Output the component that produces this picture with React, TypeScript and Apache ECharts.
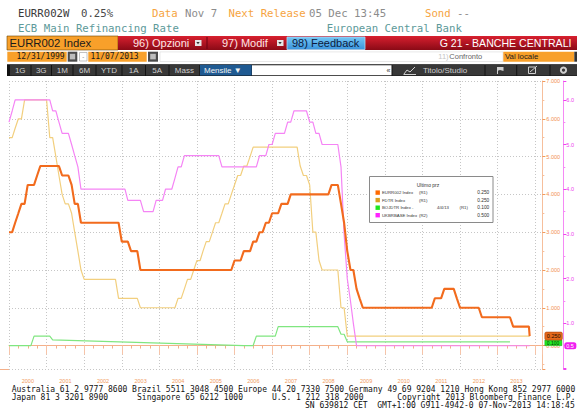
import React, { useEffect, useRef } from "react";
import * as echarts from "echarts";

// ---------------- DATA (monthly, end of month: Dec 1999 ... Nov 2013; last point 07 Nov 2013) -------------
const LAST_DATE = "2013-11-07";

const eurr002 = [
  3.0,
  3.0, 3.25, 3.5, 3.75, 3.75, 4.25, 4.25, 4.25, 4.5, 4.75, 4.75, 4.75,
  4.75, 4.75, 4.75, 4.75, 4.5, 4.5, 4.5, 4.25, 3.75, 3.75, 3.25, 3.25,
  3.25, 3.25, 3.25, 3.25, 3.25, 3.25, 3.25, 3.25, 3.25, 3.25, 3.25, 2.75,
  2.75, 2.75, 2.5, 2.5, 2.5, 2.0, 2.0, 2.0, 2.0, 2.0, 2.0, 2.0,
  2.0, 2.0, 2.0, 2.0, 2.0, 2.0, 2.0, 2.0, 2.0, 2.0, 2.0, 2.0,
  2.0, 2.0, 2.0, 2.0, 2.0, 2.0, 2.0, 2.0, 2.0, 2.0, 2.0, 2.25,
  2.25, 2.25, 2.5, 2.5, 2.5, 2.75, 2.75, 3.0, 3.0, 3.25, 3.25, 3.5,
  3.5, 3.5, 3.75, 3.75, 3.75, 4.0, 4.0, 4.0, 4.0, 4.0, 4.0, 4.0,
  4.0, 4.0, 4.0, 4.0, 4.0, 4.0, 4.25, 4.25, 4.25, 3.75, 3.25, 2.5,
  2.0, 2.0, 1.5, 1.25, 1.0, 1.0, 1.0, 1.0, 1.0, 1.0, 1.0, 1.0,
  1.0, 1.0, 1.0, 1.0, 1.0, 1.0, 1.0, 1.0, 1.0, 1.0, 1.0, 1.0,
  1.0, 1.0, 1.0, 1.25, 1.25, 1.25, 1.5, 1.5, 1.5, 1.5, 1.25, 1.0,
  1.0, 1.0, 1.0, 1.0, 1.0, 1.0, 0.75, 0.75, 0.75, 0.75, 0.75, 0.75,
  0.75, 0.75, 0.75, 0.75, 0.5, 0.5, 0.5, 0.5, 0.5, 0.5, 0.25,
];

const fdtr = [
  5.5,
  5.5, 5.75, 6.0, 6.0, 6.5, 6.5, 6.5, 6.5, 6.5, 6.5, 6.5, 6.5,
  5.5, 5.5, 5.0, 4.5, 4.0, 3.75, 3.75, 3.5, 3.0, 2.5, 2.0, 1.75,
  1.75, 1.75, 1.75, 1.75, 1.75, 1.75, 1.75, 1.75, 1.75, 1.75, 1.25, 1.25,
  1.25, 1.25, 1.25, 1.25, 1.25, 1.0, 1.0, 1.0, 1.0, 1.0, 1.0, 1.0,
  1.0, 1.0, 1.0, 1.0, 1.0, 1.25, 1.25, 1.5, 1.75, 1.75, 2.0, 2.25,
  2.25, 2.5, 2.75, 2.75, 3.0, 3.25, 3.25, 3.5, 3.75, 3.75, 4.0, 4.25,
  4.5, 4.5, 4.75, 4.75, 5.0, 5.25, 5.25, 5.25, 5.25, 5.25, 5.25, 5.25,
  5.25, 5.25, 5.25, 5.25, 5.25, 5.25, 5.25, 5.25, 4.75, 4.5, 4.5, 4.25,
  3.0, 3.0, 2.25, 2.0, 2.0, 2.0, 2.0, 2.0, 2.0, 1.0, 1.0, 0.25,
  0.25, 0.25, 0.25, 0.25, 0.25, 0.25, 0.25, 0.25, 0.25, 0.25, 0.25, 0.25,
  0.25, 0.25, 0.25, 0.25, 0.25, 0.25, 0.25, 0.25, 0.25, 0.25, 0.25, 0.25,
  0.25, 0.25, 0.25, 0.25, 0.25, 0.25, 0.25, 0.25, 0.25, 0.25, 0.25, 0.25,
  0.25, 0.25, 0.25, 0.25, 0.25, 0.25, 0.25, 0.25, 0.25, 0.25, 0.25, 0.25,
  0.25, 0.25, 0.25, 0.25, 0.25, 0.25, 0.25, 0.25, 0.25, 0.25, 0.25,
];

const bojdtr = [
  0,
  0, 0, 0, 0, 0, 0, 0, 0.25, 0.25, 0.25, 0.25, 0.25,
  0.25, 0.15, null, null, null, null, null, null, null, null, null, null,
  null, null, null, null, null, null, null, null, null, null, null, null,
  null, null, null, null, null, null, null, null, null, null, null, null,
  null, null, null, null, null, null, null, null, null, null, null, null,
  null, null, null, null, null, null, null, null, null, null, null, null,
  null, null, 0, 0, 0, 0, 0.25, 0.25, 0.25, 0.25, 0.25, 0.25,
  0.25, 0.5, 0.5, 0.5, 0.5, 0.5, 0.5, 0.5, 0.5, 0.5, 0.5, 0.5,
  0.5, 0.5, 0.5, 0.5, 0.5, 0.5, 0.5, 0.5, 0.5, 0.3, 0.3, 0.1,
  0.1, 0.1, 0.1, 0.1, 0.1, 0.1, 0.1, 0.1, 0.1, 0.1, 0.1, 0.1,
  0.1, 0.1, 0.1, 0.1, 0.1, 0.1, 0.1, 0.1, 0.1, 0.1, 0.1, 0.1,
  0.1, 0.1, 0.1, 0.1, 0.1, 0.1, 0.1, 0.1, 0.1, 0.1, 0.1, 0.1,
  0.1, 0.1, 0.1, 0.1, 0.1, 0.1, 0.1, 0.1, 0.1, 0.1, 0.1, 0.1,
  0.1, 0.1, 0.1, 0.1, null, null, null, null, null, null, null,
];

const ukbrbase = [
  5.5,
  5.75, 6.0, 6.0, 6.0, 6.0, 6.0, 6.0, 6.0, 6.0, 6.0, 6.0, 6.0,
  6.0, 5.75, 5.75, 5.5, 5.25, 5.25, 5.25, 5.0, 4.75, 4.5, 4.0, 4.0,
  4.0, 4.0, 4.0, 4.0, 4.0, 4.0, 4.0, 4.0, 4.0, 4.0, 4.0, 4.0,
  4.0, 3.75, 3.75, 3.75, 3.75, 3.75, 3.5, 3.5, 3.5, 3.5, 3.75, 3.75,
  3.75, 4.0, 4.0, 4.0, 4.25, 4.5, 4.5, 4.75, 4.75, 4.75, 4.75, 4.75,
  4.75, 4.75, 4.75, 4.75, 4.75, 4.75, 4.75, 4.5, 4.5, 4.5, 4.5, 4.5,
  4.5, 4.5, 4.5, 4.5, 4.5, 4.5, 4.5, 4.75, 4.75, 4.75, 5.0, 5.0,
  5.25, 5.25, 5.25, 5.25, 5.5, 5.5, 5.75, 5.75, 5.75, 5.75, 5.75, 5.5,
  5.5, 5.25, 5.25, 5.0, 5.0, 5.0, 5.0, 5.0, 5.0, 4.5, 3.0, 2.0,
  1.5, 1.0, 0.5, 0.5, 0.5, 0.5, 0.5, 0.5, 0.5, 0.5, 0.5, 0.5,
  0.5, 0.5, 0.5, 0.5, 0.5, 0.5, 0.5, 0.5, 0.5, 0.5, 0.5, 0.5,
  0.5, 0.5, 0.5, 0.5, 0.5, 0.5, 0.5, 0.5, 0.5, 0.5, 0.5, 0.5,
  0.5, 0.5, 0.5, 0.5, 0.5, 0.5, 0.5, 0.5, 0.5, 0.5, 0.5, 0.5,
  0.5, 0.5, 0.5, 0.5, 0.5, 0.5, 0.5, 0.5, 0.5, 0.5, 0.5,
];

const legendNames = ["EURR002 Index", "FDTR Index", "BOJDTR Index -", "UKBRBASE Index"];
const legendAxes = ["(R1)", "(R1)", "(R1)", "(R2)"];
const legendValues = ["0.250", "0.250", "0.100", "0.500"];
const legendSwatches = ["#ff6a00", "#d9a021", "#1ee61e", "#ff22ff"];
const lineColors = ["#f26b1d", "#f2cf7e", "#80e680", "#f584f5"];

const footerRow1 = "Australia 61 2 9777 8600 Brazil 5511 3048 4500 Europe 44 20 7330 7500 Germany 49 69 9204 1210 Hong Kong 852 2977 6000";
const footerRow2 = ["Japan 81 3 3201 8900", "Singapore 65 6212 1000", "U.S. 1 212 318 2000", "Copyright 2013 Bloomberg Finance L.P."];
const footerRow3 = "SN 639812 CET  GMT+1:00 G911-4942-0 07-Nov-2013 14:18:45";

// ---------------- helpers -------------
const sans = '"Liberation Sans", Arial, sans-serif';
const mono = '"DejaVu Sans Mono", "Liberation Mono", monospace';

function pointYears(count: number): number[] {
  const out: number[] = [];
  for (let i = 0; i < count; i++) {
    let y: number, m: number, d: number;
    if (i === count - 1) {
      const p = LAST_DATE.split("-").map(Number);
      y = p[0]; m = p[1] - 1; d = p[2];
    } else {
      const k = 11 + i;
      y = 1999 + Math.floor(k / 12);
      m = k % 12;
      d = new Date(Date.UTC(y, m + 1, 0)).getUTCDate();
    }
    const s = Date.UTC(y, 0, 1);
    const e = Date.UTC(y + 1, 0, 1);
    out.push(y + (Date.UTC(y, m, d) - s + 86400000) / (e - s));
  }
  return out;
}

function T(x: number, y: number, text: string, o: any = {}) {
  const align = o.align || "left";
  return {
    type: "text", x, y, silent: true, z: o.z ?? 20,
    style: {
      text, fill: o.fill || "#222", fontSize: o.size || 10, fontFamily: o.font || sans,
      fontWeight: o.weight || "normal",
      textAlign: align, align, textVerticalAlign: "middle", verticalAlign: "middle",
    },
  };
}
function R(x: number, y: number, w: number, h: number, fill: any, o: any = {}) {
  const style: any = { fill };
  if (o.stroke) { style.stroke = o.stroke; style.lineWidth = o.lw || 1; }
  return { type: "rect", silent: true, z: o.z ?? 10, shape: { x, y, width: w, height: h, r: o.r || 0 }, style };
}
function L(x1: number, y1: number, x2: number, y2: number, stroke: string, o: any = {}) {
  return { type: "line", silent: true, z: o.z ?? 12, shape: { x1, y1, x2, y2 }, style: { stroke, lineWidth: o.lw || 1 } };
}
const isInt = (v: number) => Math.abs(v - Math.round(v)) < 1e-7;

function buildHeader(): any[] {
  const g: any[] = [];
  const hO = "#f6a43f", hG = "#8c8c8c", teal = "#5d9a9a";
  const f1 = { font: mono, size: 10.7 };
  g.push(T(18, 13.5, "EURR002W", { ...f1, fill: "#3a3a3a" }));
  g.push(T(81, 13.5, "0.25%", { ...f1, fill: "#4a4a4a" }));
  g.push(T(152, 13.5, "Data", { ...f1, fill: hO }));
  g.push(T(185, 13.5, "Nov 7", { ...f1, fill: hG }));
  g.push(T(228.5, 13.5, "Next Release", { ...f1, fill: hO }));
  g.push(T(309, 13.5, "05 Dec 13:45", { ...f1, fill: hG }));
  g.push(T(425, 13.5, "Sond", { ...f1, fill: hO }));
  g.push(T(457, 13.5, "--", { ...f1, fill: hG }));
  g.push(T(18, 28.5, "ECB Main Refinancing Rate", { ...f1, fill: teal }));
  g.push(T(326.7, 28.5, "European Central Bank", { ...f1, fill: teal }));

  // row 3
  g.push(R(7, 36, 111, 14, "#f8a02a", { stroke: "#6b4300", lw: 0.6 }));
  g.push(T(9.5, 43.2, "EURR002 Index", { size: 11.3, fill: "#1a1a1a" }));
  g.push(R(118, 36, 459, 14, { type: "linear", x: 0, y: 0, x2: 0, y2: 1, colorStops: [{ offset: 0, color: "#d8202f" }, { offset: 1, color: "#8a0a16" }] }));
  g.push(T(133, 43.2, "96) Opzioni", { size: 11, fill: "#ffe6e6" }));
  g.push(R(195, 40, 6.5, 6, "#e6e6e6"));
  g.push({ type: "polygon", silent: true, z: 12, shape: { points: [[196.3, 42], [199.7, 42], [198, 44.3]] }, style: { fill: "#333" } });
  g.push(L(207, 37, 207, 49, "#6a0010"));
  g.push(T(222, 43.2, "97) Modif", { size: 11, fill: "#ffe6e6" }));
  g.push(R(277, 40, 6.5, 6, "#e6e6e6"));
  g.push({ type: "polygon", silent: true, z: 12, shape: { points: [[278.3, 42], [281.7, 42], [280, 44.3]] }, style: { fill: "#333" } });
  g.push(R(287, 37, 78, 12.5, { type: "linear", x: 0, y: 0, x2: 0, y2: 1, colorStops: [{ offset: 0, color: "#74c6f4" }, { offset: 1, color: "#3a94dc" }] }, { stroke: "#a9dcf8", lw: 0.8 }));
  g.push(T(292, 43.2, "98) Feedback", { size: 11, fill: "#0c1a3c" }));
  g.push(T(571.5, 43.2, "G 21 - BANCHE CENTRALI", { size: 10.6, fill: "#ffffff", align: "right" }));

  // row 4
  g.push(R(7.3, 51.7, 59.4, 10, "#f8a02a"));
  g.push(T(16.5, 56.8, "12/31/1999", { font: mono, size: 8, fill: "#1a1a1a" }));
  g.push(R(67.7, 51.7, 9.6, 10, "#4c4c4c"));
  g.push(R(69.8, 53.8, 5.4, 5.6, "#bdbdbd"));
  g.push(R(79.5, 52.5, 7.5, 8.5, "#ffffff", { stroke: "#9a9a9a", lw: 0.6 }));
  g.push(T(83.2, 56.8, "-", { size: 6, fill: "#666", align: "center" }));
  g.push(R(88.3, 51.7, 58.4, 10, "#f8a02a"));
  g.push(T(90.5, 56.8, "11/07/2013", { font: mono, size: 8, fill: "#1a1a1a" }));
  g.push(R(148, 51.7, 10, 10, "#4c4c4c"));
  g.push(R(150.2, 53.8, 5.6, 5.6, "#bdbdbd"));
  g.push(R(160, 51.9, 343, 9.6, "#ffffff", { stroke: "#d0d0d0", lw: 0.5 }));
  g.push(T(438.3, 56.8, "11)", { size: 7.5, fill: "#c4c4c4" }));
  g.push(T(449.3, 56.8, "Confronto", { size: 7.5, fill: "#666" }));
  g.push(R(503.3, 51.7, 71, 10, "#f8a02a"));
  g.push(T(505, 56.8, "Val locale", { size: 7.8, fill: "#1a1a1a" }));
  g.push(R(574.3, 51.7, 2.7, 10, "#333"));

  // row 5 toolbar
  g.push(R(7, 64.3, 570, 11.7, "#121212"));
  const btns: [string, number, number][] = [
    ["1G", 10, 30.5], ["3G", 31.5, 51], ["1M", 52, 72.5], ["6M", 73.5, 95.5],
    ["YTD", 96.5, 121.5], ["1A", 122.5, 145], ["5A", 146, 168.5], ["Mass", 169.5, 199.3],
  ];
  for (const [lab, a, b] of btns) {
    g.push(R(a, 64.8, b - a, 10.7, "#383838"));
    g.push(T((a + b) / 2, 70.3, lab, { size: 8, fill: "#cfcfcf", align: "center" }));
  }
  g.push(R(200, 64.8, 51.7, 10.7, "#1f5a92"));
  g.push(T(204, 70.3, "Mensile \u25BC", { size: 8, fill: "#f2f2f2" }));
  g.push(R(252, 65.2, 139.5, 10, "#ffffff"));
  g.push(T(386.5, 70.3, "\u00AB", { size: 7, fill: "#333" }));
  g.push(R(392.5, 64.8, 92, 10.7, "#383838"));
  g.push({ type: "polyline", silent: true, z: 14, shape: { points: [[404, 74], [407, 70], [410, 72], [415, 67]] }, style: { stroke: "#cfcfcf", lineWidth: 1, fill: null } });
  g.push(L(403.5, 74.5, 416, 74.5, "#cfcfcf", { z: 14 }));
  g.push(T(423, 70.3, "Titolo/Studio", { size: 8, fill: "#cfcfcf" }));
  g.push(R(485.5, 64.8, 30.7, 10.7, "#383838"));
  g.push({ type: "polygon", silent: true, z: 14, shape: { points: [[497, 67], [503.5, 67], [503.5, 71], [500, 70], [497, 71]] }, style: { fill: "#cfcfcf" } });
  g.push(L(497.5, 67, 497.5, 74, "#cfcfcf", { z: 14 }));
  g.push(R(517.2, 64.8, 32.3, 10.7, "#383838"));
  g.push(R(528.5, 67, 7, 6.5, "none", { stroke: "#cfcfcf", lw: 1, z: 14 }));
  g.push(L(530, 72, 537, 66, "#cfcfcf", { z: 15 }));
  g.push(R(550.5, 64.8, 26.5, 10.7, "#383838"));
  g.push({ type: "ring", silent: true, z: 14, shape: { cx: 563.5, cy: 70.2, r: 3.6, r0: 1.6 }, style: { fill: "#cfcfcf" } });
  return g;
}

function buildFooter(): any[] {
  const g: any[] = [];
  const f = { font: mono, size: 8, fill: "#111" };
  const cw = 4.82;
  g.push(T(11.7, 389.3, footerRow1, f));
  const cols = [0, 26, 54, 80];
  footerRow2.forEach((s, i) => g.push(T(11.7 + cols[i] * cw, 397.7, s, f)));
  g.push(T(305, 405.7, footerRow3, f));
  return g;
}

function buildLegend(): any[] {
  const g: any[] = [];
  const fs = 4.3;
  g.push(R(369.5, 176.5, 123.5, 46, "#ffffff", { stroke: "#8a8a8a", lw: 1, z: 30 }));
  g.push(T(428, 185.2, "Ultimo prz", { size: 5, fill: "#333", align: "center", z: 31 }));
  const ys = [192.6, 200.1, 207.7, 215.2];
  for (let i = 0; i < 4; i++) {
    g.push(R(375.5, ys[i] - 2.2, 4.4, 4.4, legendSwatches[i], { z: 31 }));
    g.push(T(382, ys[i], legendNames[i], { size: fs, fill: "#333", z: 31 }));
    if (i === 2) {
      g.push(T(437, ys[i], "4/4/13", { size: fs, fill: "#333", z: 31 }));
      g.push(T(459.5, ys[i], legendAxes[i], { size: fs, fill: "#333", z: 31 }));
    } else {
      g.push(T(419, ys[i], legendAxes[i], { size: fs, fill: "#333", z: 31 }));
    }
    g.push(T(489.3, ys[i], legendValues[i], { size: 4.8, fill: "#333", align: "right", z: 31 }));
  }
  return g;
}

export default function App() {
  const ref = useRef<HTMLDivElement>(null);
  useEffect(() => {
    if (!ref.current) return;
    const chart = echarts.init(ref.current, null, { renderer: "svg", width: 577, height: 412 });
    const xs = pointYears(eurr002.length);
    const pts = (vals: (number | null)[]) =>
      vals.map((v, i) => [xs[i], v]).filter((p) => p[1] !== null);

    const gridLeft = 9, gridRight = 33, gridTop = 81, gridBottom = 43;
    const xMin = 2000, xMax = 2014.19;
    const yearPx = (577 - gridLeft - gridRight) / (xMax - xMin);
    const dotted = { color: "#c6c6c6", type: [1, 2], width: 1 };

    const baseGraphics = [
      ...buildHeader(),
      ...buildFooter(),
      ...buildLegend(),
      L(0, 369.5, 9, 369.5, "#f4b08a", { z: 5 }),
    ];

    const mkLine = (name: string, data: any[], color: string, width: number, yAxisIndex: number, z: number) => ({
      name, type: "line", data, yAxisIndex, showSymbol: false, symbol: "none", z,
      lineStyle: { color, width }, itemStyle: { color }, emphasis: { disabled: true }, silent: true,
    });

    const option: any = {
      animation: false,
      backgroundColor: "#ffffff",
      grid: { left: gridLeft, right: gridRight, top: gridTop, bottom: gridBottom },
      xAxis: {
        type: "value", min: xMin, max: xMax, interval: 1,
        axisLine: { show: true, lineStyle: { color: "#f4b08a", width: 1 } },
        axisTick: { show: true, length: 9, lineStyle: { color: "#f7c4a8" } },
        minorTick: { show: true, splitNumber: 4, length: 3, lineStyle: { color: "#f4b08a" } },
        axisLabel: {
          show: true, margin: 8.5, fontSize: 5.5, color: "#f09a60", fontFamily: sans,
          align: "center", padding: [0, 0, 0, yearPx],
          formatter: (v: number) => (isInt(v) && v <= 2013 ? String(Math.round(v)) : ""),
        },
        splitLine: { show: true, lineStyle: dotted },
      },
      yAxis: [
        {
          type: "value", position: "right", min: -0.62, max: 7, splitNumber: 8,
          axisLine: { show: true, lineStyle: { color: "#f6bf9c" } },
          axisTick: { show: true, length: 3, lineStyle: { color: "#f29a5e" } },
          minorTick: { show: true, splitNumber: 2, length: 2, lineStyle: { color: "#f6bf9c" } },
          axisLabel: {
            margin: 4, fontSize: 5.5, color: "#f29050", fontFamily: sans,
            formatter: (v: number) => (isInt(v) && v > -0.1 ? Math.abs(v).toFixed(3) : ""),
          },
          splitLine: { show: true, lineStyle: dotted },
        },
        {
          type: "value", position: "right", offset: 21, min: -0.02, max: 6.42, splitNumber: 6,
          axisLine: { show: true, lineStyle: { color: "#f58af5" } },
          axisTick: { show: true, length: 3, lineStyle: { color: "#ee44ee" } },
          minorTick: { show: true, splitNumber: 2, length: 2, lineStyle: { color: "#f58af5" } },
          axisLabel: {
            margin: 3, fontSize: 5.5, color: "#ee40ee", fontFamily: sans,
            formatter: (v: number) => (isInt(v) && v >= 1 ? v.toFixed(1) : ""),
          },
          splitLine: { show: false },
        },
      ],
      series: [
        mkLine("FDTR Index", pts(fdtr), lineColors[1], 1.2, 0, 3),
        mkLine("BOJDTR Index", pts(bojdtr), lineColors[2], 1.2, 0, 4),
        mkLine("UKBRBASE Index", pts(ukbrbase), lineColors[3], 1.2, 1, 5),
        mkLine("EURR002 Index", pts(eurr002), lineColors[0], 2.1, 0, 6),
      ],
      graphic: baseGraphics,
    };
    chart.setOption(option);

    // last-value tags on the right axes, placed through the axes' own scales
    const axX = chart.convertToPixel({ xAxisIndex: 0 }, xMax) as number;
    const yOr = chart.convertToPixel({ yAxisIndex: 0 }, eurr002[eurr002.length - 1]) as number;
    const lastBoj = (bojdtr.filter((v) => v !== null) as number[]).slice(-1)[0];
    const yGr = chart.convertToPixel({ yAxisIndex: 0 }, lastBoj) as number;
    const yPk = chart.convertToPixel({ yAxisIndex: 1 }, ukbrbase[ukbrbase.length - 1]) as number;
    const orTop = yOr - 4, orH = 8;
    const grTop = Math.max(yGr - 3, orTop + orH);
    const tags = [
      R(axX + 2.5, grTop, 17, 5.5, "#22ee22", { z: 40, stroke: "#0a9a0a", lw: 0.5 }),
      T(axX + 4.5, grTop + 2.8, "0.100", { size: 5, fill: "#0a2a0a", z: 41 }),
      R(axX + 2.5, orTop, 17.5, orH, "#e56a1c", { z: 42, stroke: "#a8420a", lw: 0.6, r: 1.5 }),
      T(axX + 4.5, yOr, "0.250", { size: 5.5, fill: "#1c0c00", z: 43 }),
      R(axX + 22, yPk - 3.5, 12, 7, "#f01ef0", { z: 42, r: 2.5 }),
      T(axX + 23.8, yPk, "0.5", { size: 5.5, fill: "#ffffff", z: 43 }),
    ];
    chart.setOption({ graphic: [...baseGraphics, ...tags] });

    return () => chart.dispose();
  }, []);

  return (
    <div
      ref={ref}
      style={{ position: "fixed", left: 0, top: 0, width: 577, height: 412, background: "#fff" }}
    />
  );
}
